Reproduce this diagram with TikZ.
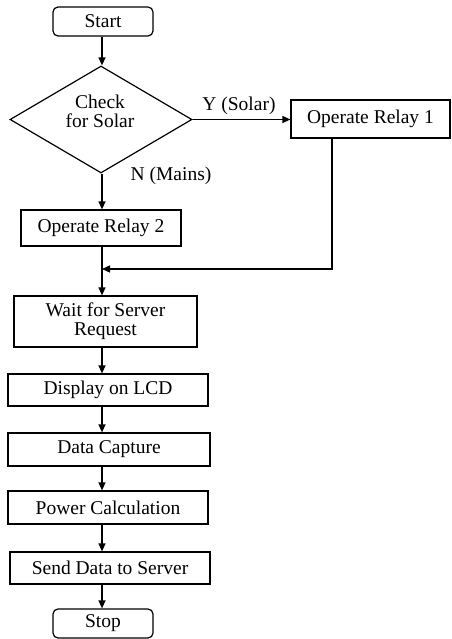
\documentclass[tikz,border=0pt]{standalone}
\usepackage{fontspec}
\setmainfont{Liberation Serif}
\usetikzlibrary{arrows.meta,shapes.geometric}
\begin{document}
\begin{tikzpicture}[x=1pt,y=-1pt,
  every node/.style={font=\fontsize{19.5}{19}\selectfont, text=black},
  box/.style={draw, line width=1.2pt, inner sep=0pt, align=center},
  term/.style={box, rounded corners=5pt},
  arr/.style={line width=1.3pt, -{Triangle[length=8pt,width=7pt]}},
  ln/.style={line width=1.3pt}]
\useasboundingbox (0,0) rectangle (451,639);
\coordinate (ax) at (102,0);
\coordinate (r1x) at (332,0);
\node[term, minimum width=100pt, minimum height=29pt] (start) at (103,21.5) {Start};
\node[box, shape=diamond, aspect=1.7, minimum width=182pt, minimum height=107pt] (diam) at (101,119.5) {};
\node (chk) at (100,114) {\begin{tabular}{@{}c@{}}Check\\[-1pt]for Solar\end{tabular}};
\node[box, minimum width=159pt, minimum height=38pt] (relay1) at (370.5,119) {Operate Relay 1};
\node[box, minimum width=160pt, minimum height=36pt] (relay2) at (101,228) {Operate Relay 2};
\node[box, minimum width=183pt, minimum height=51pt] (wait) at (105.5,321.5) {Wait for Server\\Request};
\node[box, minimum width=200pt, minimum height=32pt] (lcd) at (108,390) {Display on LCD};
\node[box, minimum width=202pt, minimum height=33pt] (cap) at (109,449.5) {Data Capture};
\node[box, minimum width=200pt, minimum height=33pt] (pow) at (108,507.5) {Power Calculation};
\node[box, minimum width=200pt, minimum height=32pt] (send) at (110,568) {Send Data to Server};
\node[term, minimum width=100pt, minimum height=29pt] (stop) at (103,623.5) {Stop};
\node (ylab) at (239,106) {Y (Solar)};
\node (nlab) at (171,176) {N (Mains)};
\coordinate (m) at (102,269);
\draw[arr] (start.south -| ax) -- (diam.north -| ax);
\draw[arr] (diam.east) -- (relay1.west |- diam.east);
\draw[arr] (diam.south -| ax) -- (relay2.north -| ax);
\draw[ln] (relay2.south -| ax) -- (m);
\draw[arr] (relay1.south -| r1x) |- (m);
\draw[arr] (m) -- (wait.north -| ax);
\draw[arr] (wait.south -| ax) -- (lcd.north -| ax);
\draw[arr] (lcd.south -| ax) -- (cap.north -| ax);
\draw[arr] (cap.south -| ax) -- (pow.north -| ax);
\draw[arr] (pow.south -| ax) -- (send.north -| ax);
\draw[arr] (send.south -| ax) -- (stop.north -| ax);
\end{tikzpicture}
\end{document}
